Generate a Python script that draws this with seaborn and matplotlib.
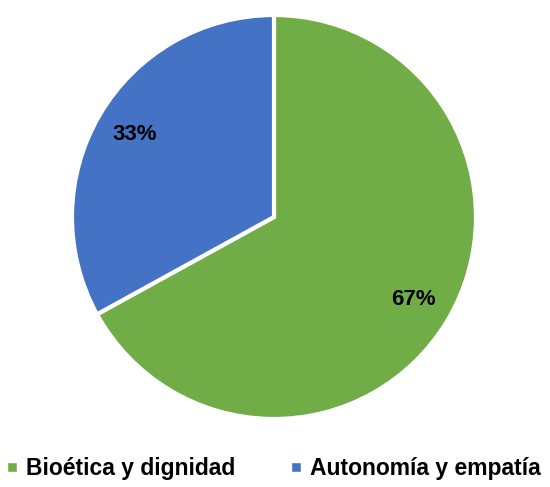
import matplotlib
matplotlib.use('Agg')
import matplotlib.pyplot as plt
import seaborn as sns
from matplotlib.lines import Line2D

# Datos
categorias = ['Bioética y dignidad', 'Autonomía y empatía']
valores = [67, 33]
colores = ['#70AD47', '#4472C4']

sns.set_theme(style='white')
plt.rcParams['font.family'] = ['Liberation Sans', 'DejaVu Sans']
plt.rcParams['text.color'] = 'black'

fig = plt.figure(figsize=(5.5, 4.87), dpi=100)
ax = fig.add_axes([0.1309, 0.1396, 0.7345, 0.8296])

wedges, textos, autotextos = ax.pie(
    valores, colors=sns.color_palette(colores), startangle=90, counterclock=False,
    autopct='%1.0f%%', pctdistance=0.8,
    wedgeprops=dict(edgecolor='white', linewidth=3),
    textprops=dict(fontsize=16, fontweight='bold', color='black'))
ax.set_xlim(-1, 1)
ax.set_ylim(-1, 1)
ax.set_aspect('equal')

handles = [Line2D([0], [0], marker='s', color='w', markerfacecolor=c,
                  markersize=6.5, linestyle='') for c in colores]
leg = fig.legend(handles, categorias, loc='center', bbox_to_anchor=(0.497, 0.038),
                 ncol=2, frameon=False, handlelength=0.5, handletextpad=0.35,
                 columnspacing=2.4, prop=dict(size=16.5, weight='bold'))
for t in leg.get_texts():
    t.set_color('black')

fig.savefig('out.png', dpi=100)
